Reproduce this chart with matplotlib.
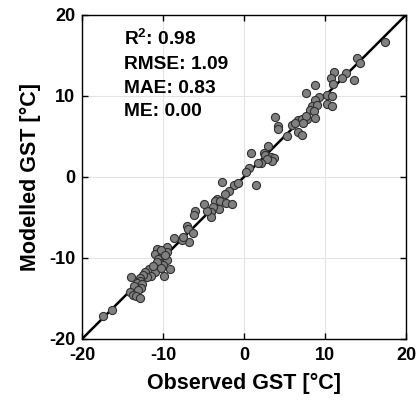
import numpy as np
import matplotlib
matplotlib.use("Agg")
import matplotlib.pyplot as plt

# observed vs modelled ground surface temperature
observed = [
    17.4, 14.0, 14.3, 13.6, 12.6, 12.1, 11.1, 10.7, 11.0, 8.8, 7.65, 10.2, 10.9, 9.26, 8.8,
    10.2, 10.9, 8.35, 9.0, 8.1, 8.6, 3.83, 4.24, 4.24, 5.9, 6.6, 7.1, 7.8, 8.7, 7.6, 6.3,
    7.3, 6.7, 7.1, 5.27,
    3.0, 0.86, 2.4, 2.6, 3.33, 3.7, 3.4, 2.8, 2.1, 1.77, 0.65, 0.2, -2.75, 1.48, -1.25,
    -0.7, -1.9, -2.4, -3.4, -3.6, -3.0, -2.2, -1.5, -3.05, -3.8, -4.1, -4.1, -4.6, -4.9,
    -6.1, -6.15, -7.1, -6.9, -6.3, -6.75, -7.7, -7.5, -8.7, -9.5,
    -10.8, -10.4, -10.0, -9.5, -11.0, -10.2, -9.75, -10.6, -9.5, -10.4, -10.0, -9.1, -9.9,
    -10.6, -11.4, -11.8, -11.0, -12.2, -11.5, -12.0, -12.5, -12.8, -14.0, -12.9, -13.25,
    -12.6, -13.6, -12.75, -14.1, -13.1, -13.7, -13.4, -12.9, -16.3, -17.4,
    -10.2, -9.8, -10.8, -11.2, -10.3,
]
modelled = [
    16.6, 14.65, 14.1, 11.9, 12.8, 12.2, 13.0, 12.2, 11.4, 11.3, 10.3, 10.1, 10.0, 9.9, 9.5,
    9.0, 8.7, 8.8, 8.9, 8.2, 8.1, 7.4, 6.3, 5.9, 6.4, 7.0, 7.1, 7.1, 7.25, 7.45, 6.7,
    6.7, 5.5, 5.2, 5.0,
    3.86, 2.9, 2.9, 2.7, 2.43, 2.3, 2.0, 2.2, 1.77, 1.77, 1.15, 0.58, -0.6, -1.0, -1.0,
    -0.7, -1.75, -2.15, -2.7, -3.0, -3.0, -3.25, -3.4, -4.0, -3.75, -4.4, -4.9, -4.2, -3.3,
    -4.2, -4.75, -6.05, -6.4, -6.9, -8.1, -7.75, -7.4, -7.5, -8.7,
    -8.9, -9.3, -9.4, -9.3, -9.5, -9.85, -10.1, -10.2, -10.3, -10.6, -10.9, -11.4, -12.2,
    -11.0, -11.5, -11.4, -11.8, -11.8, -12.2, -12.4, -12.1, -12.5, -12.4, -12.9, -13.1,
    -13.2, -13.5, -13.7, -14.2, -14.0, -14.6, -14.7, -15.0, -16.5, -17.2,
    -9.0, -9.7, -10.5, -11.0, -11.3,
]

stats_labels = ["R$^2$: 0.98", "RMSE: 1.09", "MAE: 0.83", "ME: 0.00"]
lims = [-20, 20]
ticks = [-20, -10, 0, 10, 20]

plt.rcParams["font.family"] = ["Liberation Sans", "DejaVu Sans"]
plt.rcParams["font.weight"] = "bold"
plt.rcParams["axes.unicode_minus"] = False
plt.rcParams["mathtext.fontset"] = "custom"
plt.rcParams["mathtext.rm"] = "Liberation Sans:bold"
plt.rcParams["mathtext.default"] = "rm"

fig = plt.figure(figsize=(4.19, 4.01), dpi=100)
ax = fig.add_axes([0.196, 0.155, 0.773, 0.808])

ax.plot(lims, lims, color="black", lw=1.8, zorder=2)
ax.scatter(observed, modelled, s=34, facecolor="#808080", edgecolor="#303030",
           linewidths=0.8, zorder=3)

ax.set_xlim(lims)
ax.set_ylim(lims)
ax.set_xticks(ticks)
ax.set_yticks(ticks)
ax.grid(True, color="#e3e3e3", lw=0.8, zorder=0)
ax.set_axisbelow(True)
ax.tick_params(direction="in", top=True, right=True, labelsize=13, length=4,
               width=1)
ax.tick_params(axis="x", pad=6)
ax.tick_params(axis="y", pad=5)
for lab in ax.get_xticklabels() + ax.get_yticklabels():
    lab.set_fontweight("bold")
for sp in ax.spines.values():
    sp.set_linewidth(1)

ax.set_xlabel("Observed GST [°C]", fontsize=15.5, fontweight="bold", labelpad=6)
ax.set_ylabel("Modelled GST [°C]", fontsize=15.5, fontweight="bold", labelpad=6)

for i, s in enumerate(stats_labels):
    ax.text(-14.8, 16.3 - 2.95 * i, s, fontsize=13.8, fontweight="bold",
            ha="left", va="baseline")

fig.savefig("out.png", dpi=100)
